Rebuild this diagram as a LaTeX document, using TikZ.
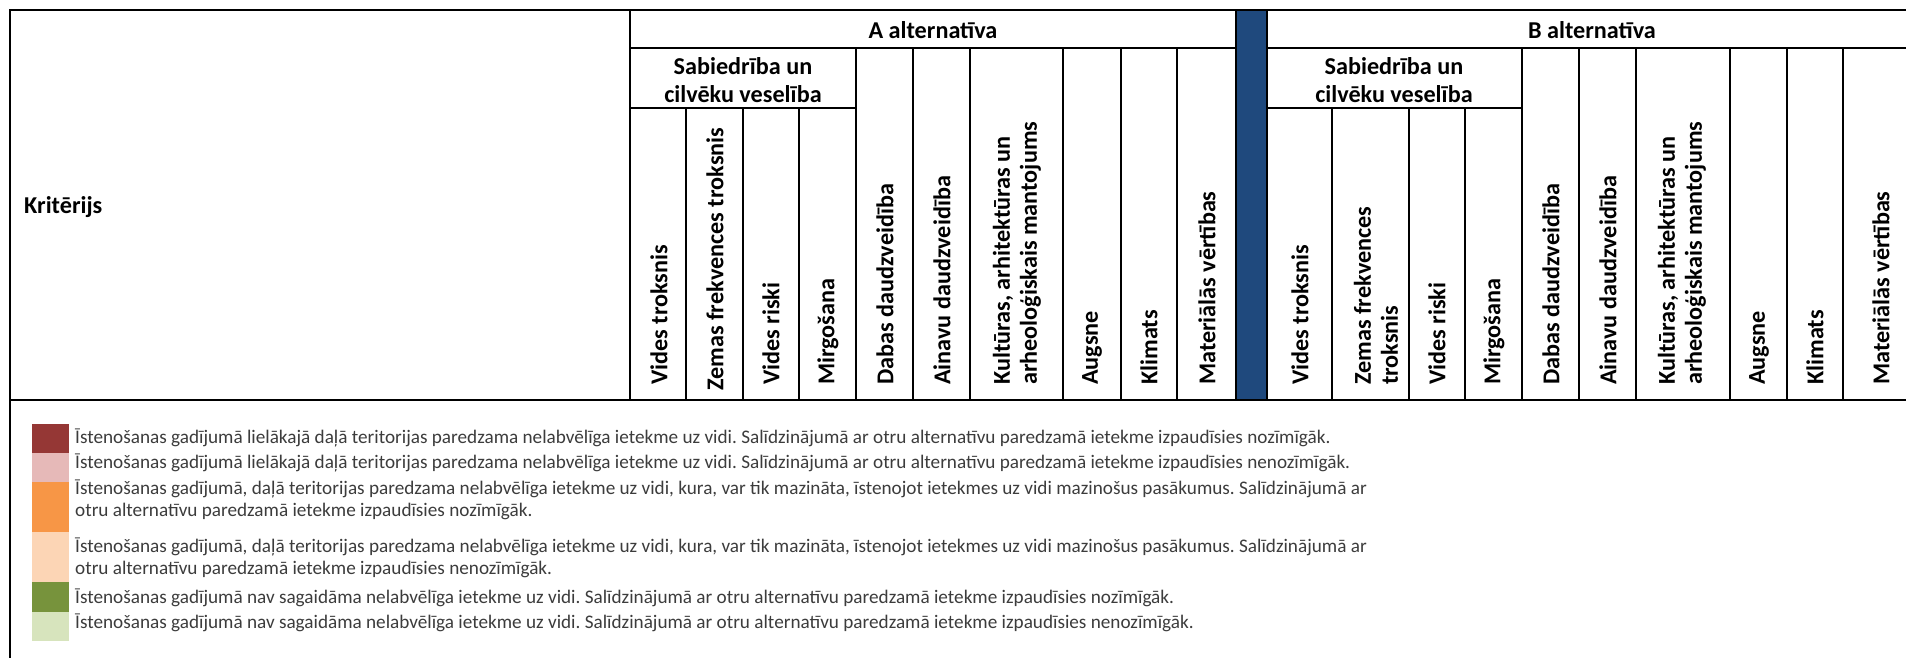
\documentclass[tikz,border=0pt]{standalone}
\usepackage{fontspec}
\setmainfont{Carlito}
\frenchspacing
\definecolor{barblue}{HTML}{1F497D}
\definecolor{cA}{HTML}{953735}
\definecolor{cB}{HTML}{E6B9B8}
\definecolor{cC}{HTML}{F79646}
\definecolor{cD}{HTML}{FCD5B5}
\definecolor{cE}{HTML}{77933C}
\definecolor{cF}{HTML}{D7E4BD}
\definecolor{legtext}{HTML}{3C3C3C}
\begin{document}
\begin{tikzpicture}[x=1pt,y=-1pt,
  gridline/.style={line width=2.4pt, line cap=rect},
  hd/.style={font=\fontsize{24.2}{28}\selectfont\bfseries, inner sep=0pt},
  vlab/.style={hd, rotate=90, anchor=west, align=left, font=\fontsize{24.2}{27}\selectfont\bfseries},
  legtxt/.style={font=\fontsize{19.2}{22}\selectfont, text=legtext, inner sep=0pt, anchor=west, align=left}]
\useasboundingbox (0,0) rectangle (1906,658);
\fill[white] (0,0) rectangle (1906,658);
% blue separator bar
\filldraw[fill=barblue, gridline] (1236,10) rectangle (1267,400);
% outer frame and main lines
\draw[gridline] (10,658) -- (10,10) -- (1917,10);
\draw[gridline] (10,400) -- (1917,400);
\draw[gridline] (630,10) -- (630,400);
% row lines
\draw[gridline] (630,48) -- (1236,48);
\draw[gridline] (1267,48) -- (1917,48);
\draw[gridline] (630,108) -- (856,108);
\draw[gridline] (1267,108) -- (1522,108);
% sub-columns in Sabiedriba group
\foreach \x in {686,743,799} \draw[gridline] (\x,108) -- (\x,400);
\foreach \x in {1332,1409,1465} \draw[gridline] (\x,108) -- (\x,400);
% other columns
\foreach \x in {856,913,970,1063,1121,1177} \draw[gridline] (\x,48) -- (\x,400);
\foreach \x in {1522,1579,1636,1730,1787,1843} \draw[gridline] (\x,48) -- (\x,400);
% header texts
\node[hd, anchor=west] (krit) at (24,207) {Kritērijs};
\node[hd] (altA) at (933,30) {A alternatīva};
\node[hd] (altB) at (1592,30) {B alternatīva};
\node[hd, align=center] (sabA) at (743,80) {Sabiedrība un\\cilvēku veselība};
\node[hd, align=center] (sabB) at (1394,80) {Sabiedrība un\\cilvēku veselība};
% vertical labels A
\node[vlab] (a1) at (659,385) {Vides troksnis};
\node[vlab] (a2) at (715,391) {Zemas frekvences troksnis};
\node[vlab] (a3) at (771,385) {Vides riski};
\node[vlab] (a4) at (828,385) {Mirgošana};
\node[vlab] (a5) at (885,385) {Dabas daudzveidība};
\node[vlab] (a6) at (942,385) {Ainavu daudzveidība};
\node[vlab] (a7) at (1017,385) {Kultūras, arhitektūras un\\arheoloģiskais mantojums};
\node[vlab] (a8) at (1092,385) {Augsne};
\node[vlab] (a9) at (1149,385) {Klimats};
\node[vlab] (a10) at (1207,385) {Materiālās vērtības};
% vertical labels B
\node[vlab] (b1) at (1300,385) {Vides troksnis};
\node[vlab] (b2) at (1376,385) {Zemas frekvences\\troksnis};
\node[vlab] (b3) at (1437,385) {Vides riski};
\node[vlab] (b4) at (1494,385) {Mirgošana};
\node[vlab] (b5) at (1551,385) {Dabas daudzveidība};
\node[vlab] (b6) at (1608,385) {Ainavu daudzveidība};
\node[vlab] (b7) at (1682,385) {Kultūras, arhitektūras un\\arheoloģiskais mantojums};
\node[vlab] (b8) at (1759,385) {Augsne};
\node[vlab] (b9) at (1815,385) {Klimats};
\node[vlab] (b10) at (1881,385) {Materiālās vērtības};
% legend swatches
\fill[cA] (32,424) rectangle (69,453);
\fill[cB] (32,453) rectangle (69,482);
\fill[cC] (32,482) rectangle (69,532);
\fill[cD] (32,532) rectangle (69,582);
\fill[cE] (32,582) rectangle (69,612);
\fill[cF] (32,612) rectangle (69,641);
% legend texts
\node[legtxt] (l1) at (75,438) {Īstenošanas gadījumā lielākajā daļā teritorijas paredzama nelabvēlīga ietekme uz vidi. Salīdzinājumā ar otru alternatīvu paredzamā ietekme izpaudīsies nozīmīgāk.};
\node[legtxt] (l2) at (75,463) {Īstenošanas gadījumā lielākajā daļā teritorijas paredzama nelabvēlīga ietekme uz vidi. Salīdzinājumā ar otru alternatīvu paredzamā ietekme izpaudīsies nenozīmīgāk.};
\node[legtxt] (l3) at (75,500) {Īstenošanas gadījumā, daļā teritorijas paredzama nelabvēlīga ietekme uz vidi, kura, var tik mazināta, īstenojot ietekmes uz vidi mazinošus pasākumus. Salīdzinājumā ar\\otru alternatīvu paredzamā ietekme izpaudīsies nozīmīgāk.};
\node[legtxt] (l4) at (75,558) {Īstenošanas gadījumā, daļā teritorijas paredzama nelabvēlīga ietekme uz vidi, kura, var tik mazināta, īstenojot ietekmes uz vidi mazinošus pasākumus. Salīdzinājumā ar\\otru alternatīvu paredzamā ietekme izpaudīsies nenozīmīgāk.};
\node[legtxt] (l5) at (75,598) {Īstenošanas gadījumā nav sagaidāma nelabvēlīga ietekme uz vidi. Salīdzinājumā ar otru alternatīvu paredzamā ietekme izpaudīsies nozīmīgāk.};
\node[legtxt] (l6) at (75,623) {Īstenošanas gadījumā nav sagaidāma nelabvēlīga ietekme uz vidi. Salīdzinājumā ar otru alternatīvu paredzamā ietekme izpaudīsies nenozīmīgāk.};
\end{tikzpicture}
\end{document}
